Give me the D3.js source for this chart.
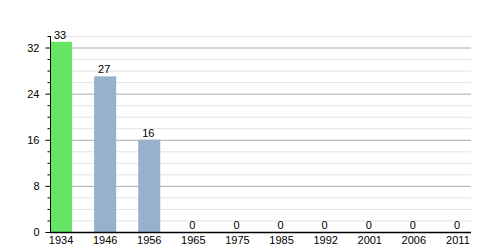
<!DOCTYPE html>
<html>
<head>
<meta charset="utf-8">
<script src="https://cdn.jsdelivr.net/npm/d3@7"></script>
<style>
  body { margin: 0; background: #fff; }
  svg text { font-family: "Liberation Sans", Arial, sans-serif; font-size: 11px; fill: #000; }
</style>
</head>
<body>
<svg width="500" height="250"></svg>
<script>
// dados
let annees = ["1934", "1946", "1956", "1965", "1975", "1985", "1992", "2001", "2006", "2011"];
let valeurs = [33, 27, 16, 0, 0, 0, 0, 0, 0, 0];
let couleurs = ["#66e466", "#97b0cc", "#97b0cc", "#97b0cc", "#97b0cc", "#97b0cc", "#97b0cc", "#97b0cc", "#97b0cc", "#97b0cc"];
let ticks_y = [0, 8, 16, 24, 32];
let y_max = 34;

let svg = d3.select("svg");

let x = d3.scaleBand()
  .domain(annees)
  .range([39, 480])
  .paddingInner(0.5)
  .paddingOuter(0.25);

let y = d3.scaleLinear()
  .domain([0, y_max])
  .range([232, 36]);

let x0 = 50, x1 = 471;

// grille mineure (tous les 2) et majeure (tous les 8)
let mineurs = d3.range(2, y_max + 1, 2).filter(d => d % 8 != 0);
svg.append("g")
  .selectAll("line")
  .data(mineurs)
  .join("line")
    .attr("x1", x0).attr("x2", x1)
    .attr("y1", d => y(d) + 0.5).attr("y2", d => y(d) + 0.5)
    .attr("stroke", "#e3e3e3");

svg.append("g")
  .selectAll("line")
  .data(ticks_y.filter(d => d > 0))
  .join("line")
    .attr("x1", x0).attr("x2", x1)
    .attr("y1", d => y(d) + 0.5).attr("y2", d => y(d) + 0.5)
    .attr("stroke", "#aaaaaa");

// barres
svg.append("g")
  .selectAll("rect")
  .data(annees)
  .join("rect")
    .attr("x", d => x(d))
    .attr("width", x.bandwidth())
    .attr("y", (d, i) => y(valeurs[i]))
    .attr("height", (d, i) => y(0) - y(valeurs[i]))
    .attr("fill", (d, i) => couleurs[i]);

// étiquettes de valeurs
svg.append("g")
  .selectAll("text")
  .data(annees)
  .join("text")
    .attr("x", d => x(d) + x.bandwidth() / 2 - 1)
    .attr("y", (d, i) => y(valeurs[i]) - 3)
    .attr("text-anchor", "middle")
    .text((d, i) => valeurs[i]);

// axe y
let axeY = svg.append("g").attr("transform", "translate(" + (x0 + 0.5) + ",0)");
axeY.call(d3.axisLeft(y).tickValues(ticks_y).tickSize(5).tickPadding(6).tickFormat(d3.format("d")));
axeY.select(".domain").attr("d", "M0," + y(y_max) + "V" + y(0)).attr("stroke", "#000");
axeY.selectAll(".tick text").style("font-size", "11px");
axeY.append("g")
  .selectAll("line")
  .data(mineurs)
  .join("line")
    .attr("x1", -3).attr("x2", 0)
    .attr("y1", d => y(d) + 0.5).attr("y2", d => y(d) + 0.5)
    .attr("stroke", "#000");

// axe x
let axeX = svg.append("g").attr("transform", "translate(0," + (y(0) + 0.5) + ")");
axeX.call(d3.axisBottom(x).tickSize(0).tickPadding(4));
axeX.select(".domain").attr("d", "M" + x0 + ",0H" + x1).attr("stroke", "#000").attr("stroke-width", 1.5);
axeX.selectAll(".tick text").style("font-size", "11px");
</script>
</body>
</html>
